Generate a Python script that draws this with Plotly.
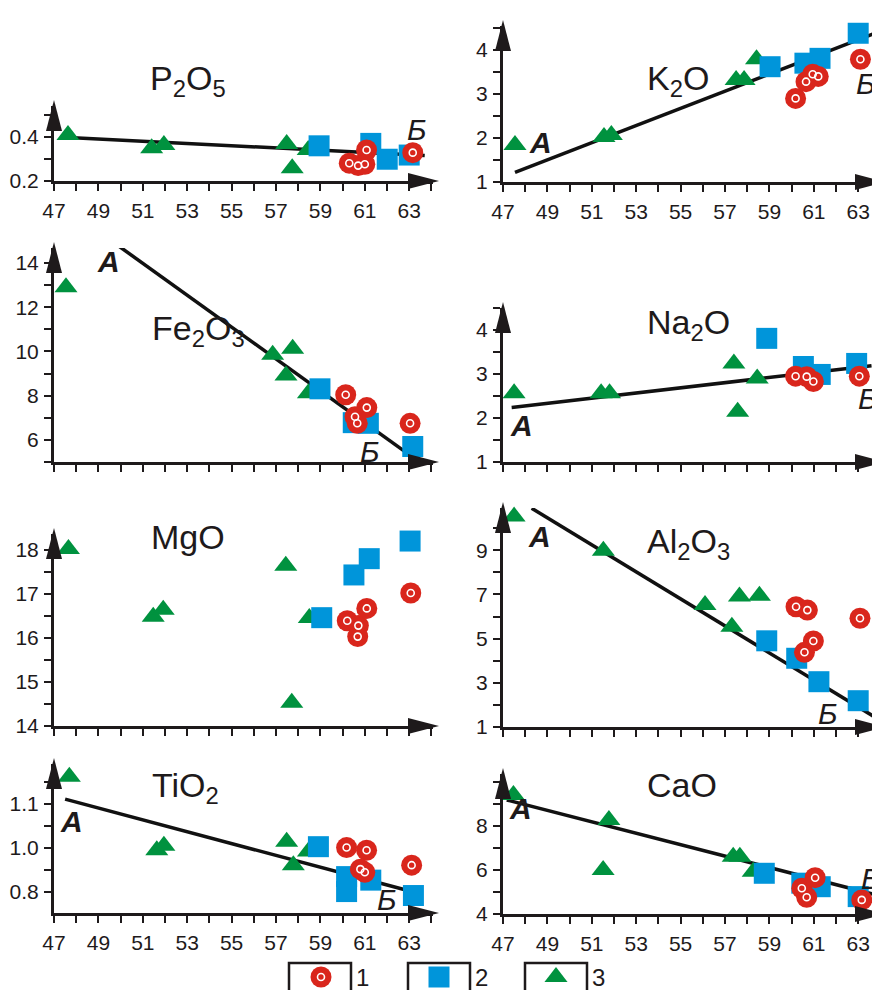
import plotly.graph_objects as go

# The page body adds an 8 px offset, so the figure is 8 px smaller and pixel
# positions below are given in window pixels.
OFF = 8
W, H = 880 - OFF, 990 - OFF
RED, BLUE, GREEN, INK = "#d9261c", "#0095da", "#00923f", "#1e1a1b"
FONT = "Liberation Sans, Arial, sans-serif"

# ---------------- data (x = SiO2, wt.%) ----------------
# group 1 = red circles, group 2 = blue squares, group 3 = green triangles
P2O5_x1 = [60.3, 60.7, 61.0, 61.08, 63.16]
P2O5_y1 = [0.281, 0.270, 0.276, 0.341, 0.329]
P2O5_x2 = [58.94, 61.27, 62.01, 63.0]
P2O5_y2 = [0.360, 0.371, 0.299, 0.318]
P2O5_x3 = [47.63, 51.4, 51.95, 57.48, 58.45, 57.73]
P2O5_y3 = [0.409, 0.349, 0.364, 0.368, 0.341, 0.258]
P2O5_trend_x = [47.42, 63.7]
P2O5_trend_y = [0.399, 0.316]

K2O_x1 = [60.18, 60.65, 60.95, 61.2, 63.1]
K2O_y1 = [2.90, 3.28, 3.45, 3.40, 3.79]
K2O_x2 = [59.03, 60.6, 61.28, 63.0]
K2O_y2 = [3.62, 3.70, 3.81, 4.38]
K2O_x3 = [47.54, 51.55, 51.88, 57.5, 57.86, 58.42]
K2O_y3 = [1.84, 2.02, 2.07, 3.32, 3.32, 3.79]
K2O_trend_x = [47.54, 63.76]
K2O_trend_y = [1.22, 4.38]

Fe2O3_x1 = [60.14, 61.09, 60.56, 60.66, 63.04]
Fe2O3_y1 = [8.04, 7.46, 7.05, 6.75, 6.75]
Fe2O3_x2 = [58.98, 60.48, 61.16, 63.16]
Fe2O3_y2 = [8.31, 6.78, 6.75, 5.70]
Fe2O3_x3 = [47.54, 52.0, 56.85, 57.75, 57.45, 58.46]
Fe2O3_y3 = [12.91, 14.75, 9.85, 10.12, 8.91, 8.11]
Fe2O3_trend_x = [49.94, 62.81]
Fe2O3_trend_y = [14.75, 5.47]

Na2O_x1 = [60.18, 60.68, 60.98, 63.05]
Na2O_y1 = [2.95, 2.94, 2.83, 2.95]
Na2O_x2 = [58.88, 60.53, 61.29, 62.93]
Na2O_y2 = [3.81, 3.17, 2.99, 3.24]
Na2O_x3 = [47.5, 51.42, 51.8, 57.4, 57.57, 58.45]
Na2O_y3 = [2.56, 2.56, 2.56, 3.24, 2.14, 2.90]
Na2O_trend_x = [47.39, 63.6]
Na2O_trend_y = [2.24, 3.19]

MgO_x1 = [60.21, 60.71, 60.68, 61.09, 63.07]
MgO_y1 = [16.39, 16.28, 16.03, 16.67, 17.02]
MgO_x2 = [59.06, 60.51, 61.2, 63.04]
MgO_y2 = [16.46, 17.43, 17.80, 18.20]
MgO_x3 = [47.65, 51.47, 51.92, 57.44, 57.71, 58.5]
MgO_y3 = [18.02, 16.48, 16.64, 17.64, 14.53, 16.45]

Al2O3_x1 = [60.2, 60.71, 60.98, 60.58, 63.08]
Al2O3_y1 = [6.44, 6.29, 4.89, 4.38, 5.92]
Al2O3_x2 = [58.88, 60.23, 61.23, 63.0]
Al2O3_y2 = [4.90, 4.11, 3.05, 2.19]
Al2O3_x3 = [47.5, 51.52, 56.1, 57.65, 58.55, 57.31]
Al2O3_y3 = [10.52, 8.98, 6.52, 6.90, 6.94, 5.54]
Al2O3_trend_x = [48.29, 63.71]
Al2O3_trend_y = [10.9, 1.47]

TiO2_x1 = [60.18, 61.08, 60.8, 61.0, 63.11]
TiO2_y1 = [1.001, 0.995, 0.952, 0.945, 0.961]
TiO2_x2 = [58.91, 60.18, 60.18, 61.27, 63.19]
TiO2_y2 = [1.003, 0.935, 0.901, 0.927, 0.892]
TiO2_x3 = [47.69, 51.63, 51.95, 57.48, 57.78, 58.46]
TiO2_y3 = [1.162, 0.995, 1.005, 1.014, 0.961, 0.992]
TiO2_trend_x = [47.5, 62.81]
TiO2_trend_y = [1.111, 0.905]

CaO_x1 = [60.46, 60.68, 61.06, 63.16]
CaO_y1 = [5.17, 4.76, 5.65, 4.64]
CaO_x2 = [58.77, 60.46, 61.29, 63.0]
CaO_y2 = [5.85, 5.40, 5.24, 4.79]
CaO_x3 = [47.47, 51.77, 51.51, 57.37, 57.67, 58.27]
CaO_y3 = [9.41, 8.27, 6.00, 6.60, 6.60, 5.92]
CaO_trend_x = [47.17, 63.68]
CaO_trend_y = [9.18, 4.90]

# y tick labels per panel
P2O5_ticks = [0.2, 0.4]
K2O_ticks = [1, 2, 3, 4]
Fe2O3_ticks = [6, 8, 10, 12, 14]
Na2O_ticks = [1, 2, 3, 4]
MgO_ticks = [14, 15, 16, 17, 18]
Al2O3_ticks = [1, 3, 5, 7, 9]
TiO2_tick_vals = [0.9, 1.0, 1.1]
TiO2_tick_text = ["0.8", "1.0", "1.1"]
CaO_ticks = [4, 6, 8]
legend_labels = ["1", "2", "3"]

# ---------------- layout helpers ----------------
def fx(px):
    return (px - OFF) / W

def fy(py):
    return 1 - (py - OFF) / H

PX_PER_UNIT = 22.2

def fmt(v):
    return f"{v:g}" if v >= 1 or v == 0 else f"{v:.1f}"

panels = [
    dict(title="P<sub>2</sub>O<sub>5</sub>", tpos=(148, 80), xl=54, tipx=439, yb=181, tipy=100,
         yr=[0.2, 0.541], yv=P2O5_ticks, yt=[f"{v:.1f}" for v in P2O5_ticks], y0=0.2, ymin=0.1, xlab=True,
         d=(P2O5_x1, P2O5_y1, P2O5_x2, P2O5_y2, P2O5_x3, P2O5_y3, P2O5_trend_x, P2O5_trend_y),
         A=(48.1, 0.564), B=(63.35, 0.436)),
    dict(title="K<sub>2</sub>O", tpos=(645, 80), xl=503, tipx=886, yb=182, tipy=20,
         yr=[1, 4.545], yv=K2O_ticks, yt=[str(v) for v in K2O_ticks], y0=1, ymin=0.5, xlab=True,
         d=(K2O_x1, K2O_y1, K2O_x2, K2O_y2, K2O_x3, K2O_y3, K2O_trend_x, K2O_trend_y),
         A=(48.67, 1.89), B=(63.35, 3.24)),
    dict(title="Fe<sub>2</sub>O<sub>3</sub>", tpos=(150, 330), xl=54, tipx=439, yb=462, tipy=242,
         yr=[5.0, 14.68], yv=Fe2O3_ticks, yt=[str(v) for v in Fe2O3_ticks], y0=5, ymin=1, xlab=False,
         d=(Fe2O3_x1, Fe2O3_y1, Fe2O3_x2, Fe2O3_y2, Fe2O3_x3, Fe2O3_y3, Fe2O3_trend_x, Fe2O3_trend_y),
         A=(49.45, 14.07), B=(61.23, 5.47)),
    dict(title="Na<sub>2</sub>O", tpos=(645, 324), xl=503, tipx=886, yb=462, tipy=302,
         yr=[1, 4.5], yv=Na2O_ticks, yt=[str(v) for v in Na2O_ticks], y0=1, ymin=0.5, xlab=False,
         d=(Na2O_x1, Na2O_y1, Na2O_x2, Na2O_y2, Na2O_x3, Na2O_y3, Na2O_trend_x, Na2O_trend_y),
         A=(47.84, 1.84), B=(63.45, 2.45)),
    dict(title="MgO", tpos=(149, 537), xl=54, tipx=439, yb=726, tipy=528,
         yr=[14, 18.36], yv=MgO_ticks, yt=[str(v) for v in MgO_ticks], y0=14, ymin=0.5, xlab=False,
         d=(MgO_x1, MgO_y1, MgO_x2, MgO_y2, MgO_x3, MgO_y3, None, None),
         A=None, B=None),
    dict(title="Al<sub>2</sub>O<sub>3</sub>", tpos=(645, 543), xl=503, tipx=886, yb=727, tipy=502,
         yr=[1, 10.91], yv=Al2O3_ticks, yt=[str(v) for v in Al2O3_ticks], y0=1, ymin=1, xlab=False,
         d=(Al2O3_x1, Al2O3_y1, Al2O3_x2, Al2O3_y2, Al2O3_x3, Al2O3_y3, Al2O3_trend_x, Al2O3_trend_y),
         A=(48.63, 9.64), B=(61.62, 1.62)),
    dict(title="TiO<sub>2</sub>", tpos=(150, 787), xl=54, tipx=439, yb=913, tipy=758,
         yr=[0.8523, 1.1909], yv=TiO2_tick_vals, yt=TiO2_tick_text, y0=0.9, ymin=0.05, xlab=True,
         d=(TiO2_x1, TiO2_y1, TiO2_x2, TiO2_y2, TiO2_x3, TiO2_y3, TiO2_trend_x, TiO2_trend_y),
         A=(47.8, 1.06), B=(61.98, 0.882)),
    dict(title="CaO", tpos=(645, 785), xl=503, tipx=886, yb=914, tipy=768,
         yr=[4, 10.36], yv=CaO_ticks, yt=[str(v) for v in CaO_ticks], y0=4, ymin=1, xlab=True,
         d=(CaO_x1, CaO_y1, CaO_x2, CaO_y2, CaO_x3, CaO_y3, CaO_trend_x, CaO_trend_y),
         A=(47.77, 8.8), B=(63.56, 5.62)),
]

fig = go.Figure()
layout = dict(template="none", width=W, height=H, margin=dict(l=0, r=0, t=0, b=0, pad=0, autoexpand=False),
              paper_bgcolor="white", plot_bgcolor="rgba(0,0,0,0)", showlegend=False,
              font=dict(family=FONT, color=INK))
shapes, annos = [], []

tickfont = dict(family=FONT, size=21, color=INK)

for i, p in enumerate(panels, start=1):
    xn = "x" if i == 1 else f"x{i}"
    yn = "y" if i == 1 else f"y{i}"
    xr = min(p["tipx"] - 6, 880)
    yt = p["tipy"] + 6
    xmax = 47 + (xr - p["xl"]) / PX_PER_UNIT
    xax = dict(domain=[fx(p["xl"]), fx(xr)], range=[47, xmax], anchor=yn, automargin=False,
               showline=True, linewidth=3, linecolor=INK, showgrid=False, zeroline=False,
               ticks="outside", ticklen=7, tickwidth=2, tickcolor=INK,
               tickmode="linear", tick0=47, dtick=2, showticklabels=p["xlab"],
               tickfont=tickfont, ticklabelstandoff=2,
               minor=dict(ticks="outside", ticklen=7, tickwidth=2, tickcolor=INK, tick0=47, dtick=1))
    yax = dict(domain=[fy(p["yb"]), fy(yt)], range=p["yr"], anchor=xn, automargin=False,
               showline=True, linewidth=3, linecolor=INK, showgrid=False, zeroline=False,
               ticks="outside", ticklen=7, tickwidth=2, tickcolor=INK, tickfont=tickfont,
               ticklabelstandoff=1, tickmode="array", tickvals=p["yv"], ticktext=p["yt"],
               minor=dict(ticks="outside", ticklen=7, tickwidth=2, tickcolor=INK,
                          tickmode="linear", tick0=p["y0"], dtick=p["ymin"]))
    layout["xaxis" if i == 1 else f"xaxis{i}"] = xax
    layout["yaxis" if i == 1 else f"yaxis{i}"] = yax

    x1, y1, x2, y2, x3, y3, tx, ty = p["d"]
    if tx is not None:
        fig.add_trace(go.Scatter(x=tx, y=ty, mode="lines", xaxis=xn, yaxis=yn,
                                 line=dict(color="#111111", width=3.5), cliponaxis=False))
    fig.add_trace(go.Scatter(x=x3, y=y3, mode="markers", xaxis=xn, yaxis=yn, cliponaxis=False,
                             marker=dict(symbol="triangle-up", size=20, color=GREEN, line=dict(width=0))))
    fig.add_trace(go.Scatter(x=x2, y=y2, mode="markers", xaxis=xn, yaxis=yn, cliponaxis=False,
                             marker=dict(symbol="square", size=21, color=BLUE, line=dict(width=0))))
    fig.add_trace(go.Scatter(x=x1, y=y1, mode="markers", xaxis=xn, yaxis=yn, cliponaxis=False,
                             marker=dict(symbol="circle", size=21, color=RED, line=dict(width=0))))
    fig.add_trace(go.Scatter(x=x1, y=y1, mode="markers", xaxis=xn, yaxis=yn, cliponaxis=False,
                             marker=dict(symbol="circle-open", size=7, color="white", line=dict(width=1.6, color="white"))))

    # axis arrowheads
    bx, by = p["tipx"], p["yb"]
    shapes.append(dict(type="path", xref="paper", yref="paper", layer="above",
                       path=f"M{fx(bx)},{fy(by)} L{fx(bx-31)},{fy(by-8)} L{fx(bx-31)},{fy(by+8)} Z",
                       fillcolor=INK, line=dict(width=0)))
    ax_, ay_ = p["xl"], p["tipy"]
    shapes.append(dict(type="path", xref="paper", yref="paper", layer="above",
                       path=f"M{fx(ax_)},{fy(ay_)} L{fx(ax_-8)},{fy(ay_+31)} L{fx(ax_+8)},{fy(ay_+31)} Z",
                       fillcolor=INK, line=dict(width=0)))

    # panel title
    annos.append(dict(text=p["title"], x=fx(p["tpos"][0]), y=fy(p["tpos"][1]), xref="paper", yref="paper",
                      xanchor="left", yanchor="middle", showarrow=False,
                      font=dict(family=FONT, size=34, color=INK)))
    if p["A"] is not None:
        annos.append(dict(text="<b><i>А</i></b>", x=p["A"][0], y=p["A"][1], xref=xn, yref=yn,
                          xanchor="center", yanchor="middle", showarrow=False,
                          font=dict(family=FONT, size=30, color=INK)))
        annos.append(dict(text="<i>Б</i>", x=p["B"][0], y=p["B"][1], xref=xn, yref=yn,
                          xanchor="center", yanchor="middle", showarrow=False,
                          font=dict(family=FONT, size=30, color=INK)))

# ---------------- legend (decorative overlay axis in window pixels) ----------------
layout["xaxis9"] = dict(domain=[0, 1], range=[OFF, 880], visible=False, anchor="y9", fixedrange=True, automargin=False)
layout["yaxis9"] = dict(domain=[0, 1], range=[990, OFF], visible=False, anchor="x9", fixedrange=True, automargin=False)
leg_cx = [321, 439, 556]
leg_cy = 977
box_l = [289, 408, 525]
box_r = [351, 470, 587]
for k in range(3):
    shapes.append(dict(type="path", xref="paper", yref="paper", layer="above",
                       path=f"M{fx(box_l[k])},{fy(1000)} L{fx(box_l[k])},{fy(963)} L{fx(box_r[k])},{fy(963)} L{fx(box_r[k])},{fy(1000)}",
                       line=dict(color=INK, width=2.5)))
    annos.append(dict(text=legend_labels[k], x=fx(box_r[k] + 3), y=fy(leg_cy), xref="paper", yref="paper",
                      xanchor="left", yanchor="middle", showarrow=False,
                      font=dict(family=FONT, size=24, color=INK)))
fig.add_trace(go.Scatter(x=[leg_cx[2]], y=[leg_cy], mode="markers", xaxis="x9", yaxis="y9", cliponaxis=False,
                         marker=dict(symbol="triangle-up", size=20, color=GREEN)))
fig.add_trace(go.Scatter(x=[leg_cx[1]], y=[leg_cy], mode="markers", xaxis="x9", yaxis="y9", cliponaxis=False,
                         marker=dict(symbol="square", size=21, color=BLUE)))
fig.add_trace(go.Scatter(x=[leg_cx[0]], y=[leg_cy], mode="markers", xaxis="x9", yaxis="y9", cliponaxis=False,
                         marker=dict(symbol="circle", size=21, color=RED)))
fig.add_trace(go.Scatter(x=[leg_cx[0]], y=[leg_cy], mode="markers", xaxis="x9", yaxis="y9", cliponaxis=False,
                         marker=dict(symbol="circle-open", size=7, color="white", line=dict(width=1.6, color="white"))))

layout["shapes"] = shapes
layout["annotations"] = annos
fig.update_layout(**layout)
fig.write_html("out.html")
